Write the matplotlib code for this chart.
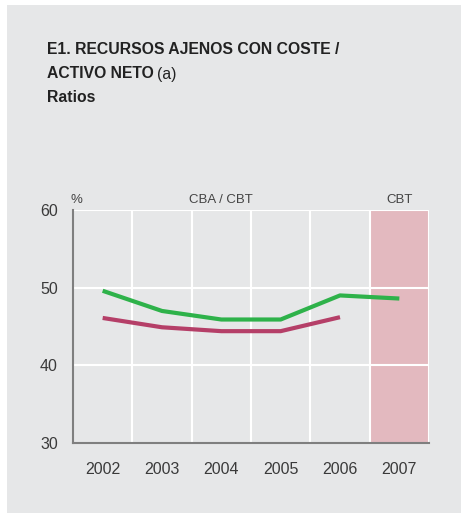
import matplotlib
matplotlib.use("Agg")
import matplotlib.pyplot as plt
from matplotlib.patches import Rectangle

years = ["2002", "2003", "2004", "2005", "2006", "2007"]
green_vals = [49.6, 47.0, 45.9, 45.9, 49.0, 48.6]
red_vals = [46.1, 44.9, 44.4, 44.4, 46.2]
yticks = [30, 40, 50, 60]

plt.rcParams['font.family'] = ['Liberation Sans', 'DejaVu Sans']
W, H = 461, 513
fig = plt.figure(figsize=(W / 100, H / 100), dpi=100)
fig.patch.set_facecolor('white')
bg = '#e6e7e8'
fig.patches.append(Rectangle((7 / W, 0), 1 - 7 / W, 1 - 5 / H, transform=fig.transFigure,
                             facecolor=bg, edgecolor='none', zorder=-10))

ax = fig.add_axes([73 / W, 1 - 443 / H, (429 - 73) / W, (443 - 210) / H])
ax.set_zorder(1)
ax.set_facecolor(bg)
ax.set_xlim(0, 6)
ax.set_ylim(30, 60)
ax.axvspan(5, 6, color='#e3b9bf', zorder=0.5, lw=0)
for x in range(1, 7):
    ax.axvline(x, color='white', lw=1.5, zorder=1)
for y in [40, 50, 60]:
    ax.axhline(y, color='white', lw=1.5, zorder=1)

xs = [i + 0.5 for i in range(len(years))]
ax.plot(xs[:len(green_vals)], green_vals, color='#2eb24a', lw=3, zorder=3, solid_capstyle='butt')
ax.plot(xs[:len(red_vals)], red_vals, color='#b53f68', lw=3, zorder=3, solid_capstyle='butt')

ax.set_xticks(xs)
ax.set_xticklabels(years)
ax.set_yticks(yticks)
ax.tick_params(axis='both', length=0, labelsize=11.5, colors='#3a3a3a')
ax.tick_params(axis='x', pad=14)
ax.tick_params(axis='y', pad=11)
for s in ['top', 'right']:
    ax.spines[s].set_visible(False)
for s in ['left', 'bottom']:
    ax.spines[s].set_color('#7f7f7f')
    ax.spines[s].set_linewidth(1.5)
    ax.spines[s].set_zorder(4)

hfs = 9.5
ax.text(0.0 - 0.05, 60.5, "%", fontsize=hfs, color='#444444', ha='left', va='bottom')
ax.text(2.5, 60.5, "CBA / CBT", fontsize=hfs, color='#444444', ha='center', va='bottom')
ax.text(5.5, 60.5, "CBT", fontsize=hfs, color='#444444', ha='center', va='bottom')

fs = 11.3
fig.text(47 / W, 1 - 50 / H, "E1. RECURSOS AJENOS CON COSTE /", fontsize=fs,
         fontweight='bold', color='#222222', va='center', ha='left')
t = fig.text(47 / W, 1 - 74 / H, "ACTIVO NETO", fontsize=fs,
             fontweight='bold', color='#222222', va='center', ha='left')
fig.canvas.draw()
bb = t.get_window_extent()
fig.text((bb.x1 + 3) / W, 1 - 74 / H, "(a)", fontsize=fs, color='#222222',
         va='center', ha='left')
fig.text(47 / W, 1 - 97 / H, "Ratios", fontsize=fs,
         fontweight='bold', color='#222222', va='center', ha='left')

fig.savefig("out.png", dpi=100, facecolor=fig.get_facecolor())
